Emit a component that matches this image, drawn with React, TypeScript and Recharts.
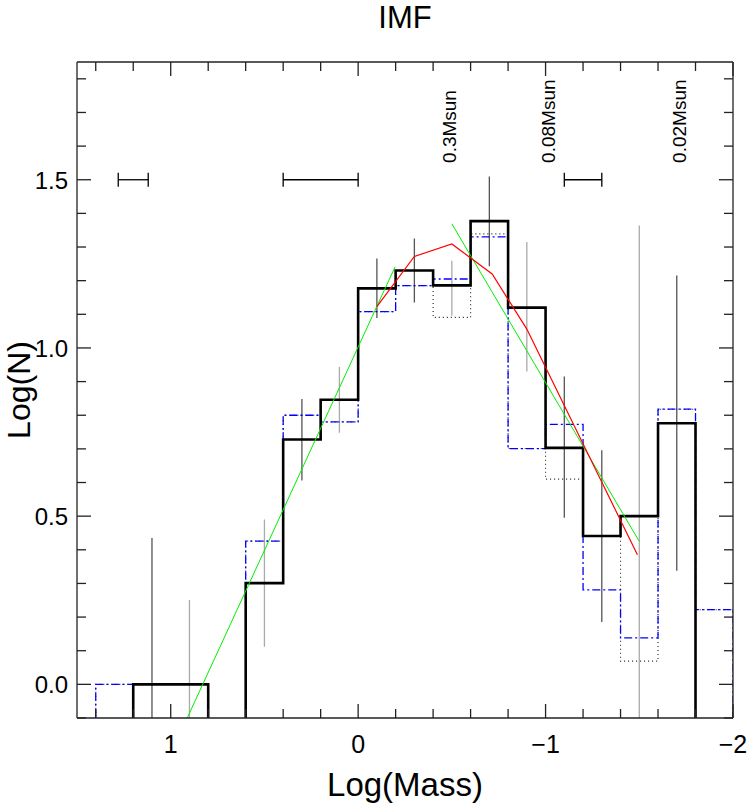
import React from "react";
import { ComposedChart, Line, XAxis, YAxis, Scatter, ErrorBar, ReferenceDot, Label } from "recharts";

const FONT = "Liberation Sans, Arial, Helvetica, sans-serif";

// bin edges in log(mass), from high to low mass
const binEdges = [1.4, 1.2, 1.0, 0.8, 0.6, 0.4, 0.2, 0.0, -0.2, -0.4, -0.6, -0.8, -1.0, -1.2, -1.4, -1.6, -1.8, -2.0];
// log(N) per bin, null = empty bin
const histMain = [null, 0, 0, null, 0.301, 0.728, 0.846, 1.177, 1.23, 1.186, 1.377, 1.12, 0.703, 0.441, 0.5, 0.776, null];
const histBlue = [0, 0, 0, null, 0.426, 0.8, 0.78, 1.108, 1.185, 1.205, 1.33, 0.701, 0.773, 0.281, 0.138, 0.818, 0.222];
const histDotted = [0, 0, 0, null, 0.426, 0.8, 0.78, 1.108, 1.185, 1.091, 1.339, 0.701, 0.61, 0.441, 0.069, 0.818, 0.222];

// vertical error bars
const errX = [1.1, 0.9, 0.5, 0.3, 0.1, -0.1, -0.3, -0.5, -0.7, -0.9, -1.1, -1.3, -1.5, -1.7];
const errLo = [-1, -1, 0.112, 0.606, 0.748, 1.089, 1.135, 1.096, 1.243, 0.93, 0.495, 0.185, -1, 0.338];
const errHi = [0.435, 0.251, 0.49, 0.848, 0.943, 1.266, 1.325, 1.259, 1.51, 1.315, 0.915, 0.696, 1.364, 1.215];
const errDark = [true, false, false, true, false, true, true, false, true, false, true, true, false, true];

// mass resolution bars at log(N)=1.5
const resX = [1.2, 0.2, -1.2];
const resHalf = [0.08, 0.2, 0.1];
const resY = 1.5;

// fits
const fitRedX = [-0.1, -0.3, -0.5, -0.715, -0.9, -1.49];
const fitRedY = [1.123, 1.272, 1.309, 1.22, 1.056, 0.385];
const fitGreen1X = [0.912, -0.197];
const fitGreen1Y = [-0.1, 1.241];
const fitGreen2X = [-0.5, -1.5];
const fitGreen2Y = [1.369, 0.425];

// mass markers
const massLabels = ["0.3Msun", "0.08Msun", "0.02Msun"];
const massLabelX = [-0.523, -1.05, -1.75];
const massLabelY = 1.55;

const xTicks = [1.4, 1.2, 1.0, 0.8, 0.6, 0.4, 0.2, 0, -0.2, -0.4, -0.6, -0.8, -1.0, -1.2, -1.4, -1.6, -1.8, -2.0];
const xLabelValues = [1, 0, -1, -2];
const xLabelText = ["1", "0", "\u22121", "\u22122"];
const yTicks = [-0.1, 0, 0.1, 0.2, 0.3, 0.4, 0.5, 0.6, 0.7, 0.8, 0.9, 1.0, 1.1, 1.2, 1.3, 1.4, 1.5, 1.6, 1.7, 1.8];
const yLabelValues = [0, 0.5, 1.0, 1.5];
const yLabelText = ["0.0", "0.5", "1.0", "1.5"];

const FLOOR = -1;

function steps(vals: (number | null)[]) {
  const pts: { x: number; y: number }[] = [{ x: binEdges[0], y: FLOOR }];
  vals.forEach((v, i) => {
    const y = v === null ? FLOOR : v;
    pts.push({ x: binEdges[i], y });
    pts.push({ x: binEdges[i + 1], y });
  });
  pts.push({ x: binEdges[binEdges.length - 1], y: FLOOR });
  return pts;
}

function bars(dark: boolean) {
  const pts: { x: number; y: number | null }[] = [];
  errX.forEach((x, i) => {
    if (errDark[i] !== dark) return;
    pts.push({ x, y: errLo[i] }, { x, y: errHi[i] }, { x, y: null });
  });
  return pts;
}

const pairs = (xs: number[], ys: number[]) => xs.map((x, i) => ({ x, y: ys[i] }));

const labelIndex = (vals: number[], v: number) => vals.findIndex(u => Math.abs(u - v) < 1e-6);
const isMajorX = (v: number) => Math.abs(v - Math.round(v)) < 1e-6;
const isMajorY = (v: number) => labelIndex(yLabelValues, v) >= 0;

const AX = "#222";
const MAJOR = 14;
const MINOR = 9;

const BottomTick = ({ x, y, payload }: any) => {
  const major = isMajorX(payload.value);
  const k = labelIndex(xLabelValues, payload.value);
  return (
    <g>
      <line x1={x} y1={y} x2={x} y2={y - (major ? MAJOR : MINOR)} stroke={AX} strokeWidth={1.3} />
      {k >= 0 && (
        <text x={x} y={y + 35} textAnchor="middle" fontSize={25} fontFamily={FONT} fill="#000">
          {xLabelText[k]}
        </text>
      )}
    </g>
  );
};

const TopTick = ({ x, y, payload }: any) => {
  const major = isMajorX(payload.value);
  return <line x1={x} y1={y} x2={x} y2={y + (major ? MAJOR : MINOR)} stroke={AX} strokeWidth={1.3} />;
};

const LeftTick = ({ x, y, payload }: any) => {
  const major = isMajorY(payload.value);
  const k = labelIndex(yLabelValues, payload.value);
  return (
    <g>
      <line x1={x} y1={y} x2={x + (major ? MAJOR : MINOR)} y2={y} stroke={AX} strokeWidth={1.3} />
      {k >= 0 && (
        <text x={x - 9} y={y + 9} textAnchor="end" fontSize={24} fontFamily={FONT} fill="#000">
          {yLabelText[k]}
        </text>
      )}
    </g>
  );
};

const RightTick = ({ x, y, payload }: any) => {
  const major = isMajorY(payload.value);
  return <line x1={x} y1={y} x2={x - (major ? MAJOR : MINOR)} y2={y} stroke={AX} strokeWidth={1.3} />;
};

const resData = resX.map((x, i) => ({ x, y: resY, ex: resHalf[i] }));

export default function App() {
  return (
    <div style={{ width: 747, height: 805, background: "#fff" }}>
      <style>{"body{margin:0;background:#fff}"}</style>
      <ComposedChart width={747} height={805} margin={{ top: 0, right: 0, bottom: 0, left: 0 }} style={{ fontFamily: FONT }}>
        <XAxis
          xAxisId="T"
          orientation="top"
          dataKey="x"
          type="number"
          domain={[-2, 1.5]}
          reversed
          allowDataOverflow
          ticks={xTicks}
          interval={0}
          height={62}
          tickSize={0}
          tickMargin={0}
          tickLine={false}
          axisLine={{ stroke: AX, strokeWidth: 1.3 }}
          tick={<TopTick />}
        >
          <Label
            content={({ viewBox }: any) => (
              <text x={viewBox.x + viewBox.width / 2} y={28} textAnchor="middle" fontSize={31} fontFamily={FONT} fill="#000">
                IMF
              </text>
            )}
          />
        </XAxis>
        <XAxis
          xAxisId="B"
          orientation="bottom"
          dataKey="x"
          type="number"
          domain={[-2, 1.5]}
          reversed
          allowDataOverflow
          ticks={xTicks}
          interval={0}
          height={87}
          tickSize={0}
          tickMargin={0}
          tickLine={false}
          axisLine={{ stroke: AX, strokeWidth: 1.3 }}
          tick={<BottomTick />}
        >
          <Label
            content={({ viewBox }: any) => (
              <text x={viewBox.x + viewBox.width / 2} y={796} textAnchor="middle" fontSize={33} fontFamily={FONT} fill="#000">
                Log(Mass)
              </text>
            )}
          />
        </XAxis>
        <YAxis
          yAxisId="L"
          orientation="left"
          type="number"
          domain={[-0.1, 1.85]}
          allowDataOverflow
          ticks={yTicks}
          interval={0}
          width={77}
          tickSize={0}
          tickMargin={0}
          tickLine={false}
          axisLine={{ stroke: AX, strokeWidth: 1.3 }}
          tick={<LeftTick />}
        >
          <Label
            content={({ viewBox }: any) => {
              const cy = viewBox.y + viewBox.height / 2;
              return (
                <text x={30} y={cy} transform={`rotate(-90 30 ${cy})`} textAnchor="middle" fontSize={32} fontFamily={FONT} fill="#000">
                  Log(N)
                </text>
              );
            }}
          />
        </YAxis>
        <YAxis
          yAxisId="R"
          orientation="right"
          type="number"
          domain={[-0.1, 1.85]}
          allowDataOverflow
          ticks={yTicks}
          interval={0}
          width={14}
          tickSize={0}
          tickMargin={0}
          tickLine={false}
          axisLine={{ stroke: AX, strokeWidth: 1.3 }}
          tick={<RightTick />}
        />

        <Line xAxisId="B" yAxisId="L" data={bars(false)} dataKey="y" stroke="#aaa" strokeWidth={1.3} dot={false} isAnimationActive={false} connectNulls={false} />
        <Line xAxisId="B" yAxisId="L" data={bars(true)} dataKey="y" stroke="#555" strokeWidth={1.3} dot={false} isAnimationActive={false} connectNulls={false} />

        <Line xAxisId="B" yAxisId="L" data={steps(histDotted)} dataKey="y" stroke="#222" strokeWidth={1.1} strokeDasharray="1 3" dot={false} isAnimationActive={false} />
        <Line xAxisId="B" yAxisId="L" data={steps(histBlue)} dataKey="y" stroke="#0000ff" strokeWidth={1.3} strokeDasharray="8 3 2 3" dot={false} isAnimationActive={false} />
        <Line xAxisId="B" yAxisId="L" data={steps(histMain)} dataKey="y" stroke="#000" strokeWidth={2.6} dot={false} isAnimationActive={false} />

        <Line xAxisId="B" yAxisId="L" data={pairs(fitGreen1X, fitGreen1Y)} dataKey="y" stroke="#00ee00" strokeWidth={1} dot={false} isAnimationActive={false} />
        <Line xAxisId="B" yAxisId="L" data={pairs(fitGreen2X, fitGreen2Y)} dataKey="y" stroke="#00ee00" strokeWidth={1} dot={false} isAnimationActive={false} />
        <Line xAxisId="B" yAxisId="L" data={pairs(fitRedX, fitRedY)} dataKey="y" stroke="#ff0000" strokeWidth={1.2} dot={false} isAnimationActive={false} />

        <Scatter xAxisId="B" yAxisId="L" data={resData} dataKey="y" shape={() => <g />} isAnimationActive={false}>
          <ErrorBar dataKey="ex" direction="x" width={7} stroke="#000" strokeWidth={1.3} isAnimationActive={false} />
        </Scatter>

        {massLabels.map((t, i) => (
          <ReferenceDot
            key={t}
            xAxisId="B"
            yAxisId="L"
            x={massLabelX[i]}
            y={massLabelY}
            r={0}
            shape={({ cx, cy }: any) => (
              <text x={cx} y={cy} transform={`rotate(-90 ${cx} ${cy})`} textAnchor="start" fontSize={19} fontFamily={FONT} fill="#000">
                {t}
              </text>
            )}
          />
        ))}
      </ComposedChart>
    </div>
  );
}
